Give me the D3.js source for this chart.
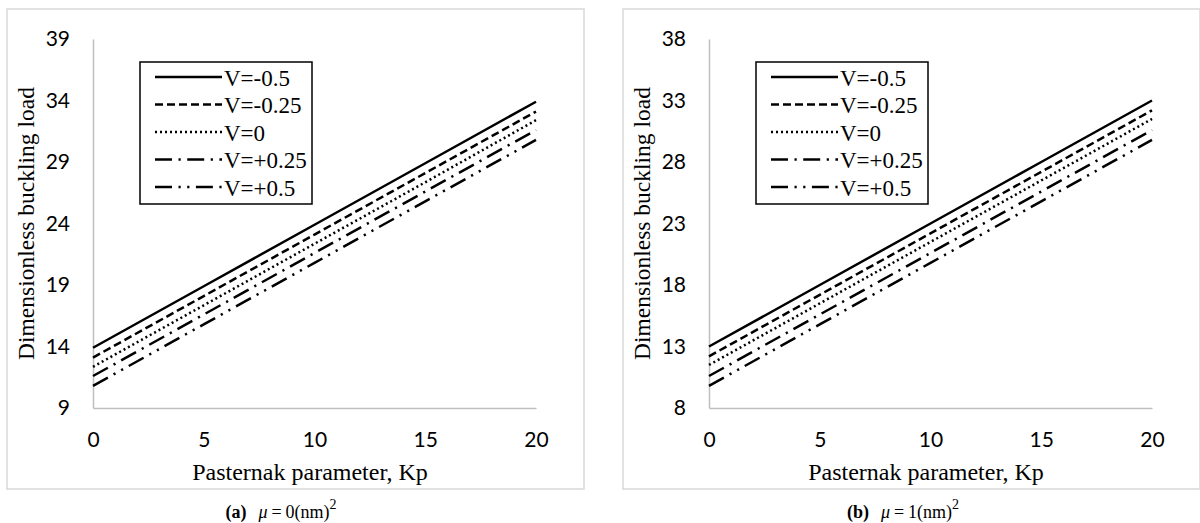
<!DOCTYPE html>
<html>
<head>
<meta charset="utf-8">
<script src="https://cdn.jsdelivr.net/npm/d3@7"></script>
<style>
  body { margin: 0; background: #fff; }
  svg { display: block; }
</style>
</head>
<body>
<div id="chart"></div>
<script>
// x values (Pasternak parameter)
var kp = [0, 5, 10, 15, 20];
var seriesNames = ["V=-0.5", "V=-0.25", "V=0", "V=+0.25", "V=+0.5"];

// panel (a) mu = 0
var a_vm050 = [13.9, 18.9, 23.9, 28.9, 33.9];
var a_vm025 = [13.1, 18.1, 23.1, 28.1, 33.1];
var a_v000  = [12.35, 17.35, 22.35, 27.35, 32.4];
var a_vp025 = [11.6, 16.6, 21.6, 26.6, 31.6];
var a_vp050 = [10.8, 15.8, 20.8, 25.8, 30.8];
var a_ticks = [9, 14, 19, 24, 29, 34, 39];

// panel (b) mu = 1
var b_vm050 = [13.0, 18.0, 23.0, 28.0, 33.0];
var b_vm025 = [12.2, 17.2, 22.2, 27.2, 32.2];
var b_v000  = [11.5, 16.5, 21.5, 26.5, 31.5];
var b_vp025 = [10.6, 15.6, 20.6, 25.6, 30.6];
var b_vp050 = [9.8, 14.8, 19.8, 24.8, 29.8];
var b_ticks = [8, 13, 18, 23, 28, 33, 38];

var xTicks = [0, 5, 10, 15, 20];

// line styles per series (solid, dash, square dot, long dash dot, long dash dot dot)
var dashes = ["none", "8,4", "2,3", "17,6.5,2.2,6.5", "17,6.5,2.2,6.5,2.2,6.5"];

var svg = d3.select("#chart").append("svg")
    .attr("width", 1200)
    .attr("height", 523);

var serif = "'Liberation Serif', 'Times New Roman', serif";
var sans = "Lato, 'Open Sans', sans-serif";

function drawPanel(left, series, yTicks, label, muVal, capX) {
    var g = svg.append("g").attr("transform", "translate(" + left + ",0)");

    // outer frame
    g.append("rect")
        .attr("x", 0).attr("y", 9)
        .attr("width", 577).attr("height", 480)
        .attr("fill", "#fff")
        .attr("stroke", "#d9d9d9")
        .attr("stroke-width", 1.5);

    var x0 = 86, x1 = 529, yTop = 39, yBot = 408;

    var x = d3.scaleLinear().domain([0, 20]).range([x0, x1]);
    var y = d3.scaleLinear().domain([yTicks[0], yTicks[yTicks.length - 1]]).range([yBot, yTop]);

    // axes
    var yAxis = d3.axisLeft(y).tickValues(yTicks).tickSize(0).tickPadding(23);
    var xAxis = d3.axisBottom(x).tickValues(xTicks).tickSize(0).tickPadding(24);

    var ya = g.append("g").attr("transform", "translate(" + x0 + ",0)").call(yAxis);
    var xa = g.append("g").attr("transform", "translate(0," + yBot + ")").call(xAxis);

    [ya, xa].forEach(function(a) {
        a.select(".domain").attr("stroke", "#bfbfbf").attr("stroke-width", 1.5);
        a.selectAll("text")
            .attr("fill", "#000")
            .style("font-family", sans)
            .style("font-size", "21px");
    });

    // series lines
    var line = d3.line()
        .x(function(d, i) { return x(kp[i]); })
        .y(function(d) { return y(d); });

    series.forEach(function(s, i) {
        g.append("path")
            .datum(s)
            .attr("d", line)
            .attr("fill", "none")
            .attr("stroke", "#000")
            .attr("stroke-width", 2.5)
            .attr("stroke-dasharray", dashes[i]);
    });

    // axis titles
    g.append("text")
        .attr("transform", "translate(19," + ((yTop + yBot) / 2) + ") rotate(-90)")
        .attr("text-anchor", "middle")
        .attr("dominant-baseline", "central")
        .style("font-family", serif)
        .style("font-size", "23.5px")
        .text("Dimensionless buckling load");

    g.append("text")
        .attr("x", 303).attr("y", 480)
        .attr("text-anchor", "middle")
        .style("font-family", serif)
        .style("font-size", "24px")
        .text("Pasternak parameter, Kp");

    // legend
    var lg = g.append("g").attr("transform", "translate(" + (x0 + 47) + ",62)");
    lg.append("rect")
        .attr("width", 172).attr("height", 142)
        .attr("fill", "#fff")
        .attr("stroke", "#000")
        .attr("stroke-width", 1.5);

    seriesNames.forEach(function(name, i) {
        var ry = 15 + i * 27.5;
        lg.append("line")
            .attr("x1", 15).attr("x2", 82)
            .attr("y1", ry).attr("y2", ry)
            .attr("stroke", "#000")
            .attr("stroke-width", 2.5)
            .attr("stroke-dasharray", dashes[i]);
        lg.append("text")
            .attr("x", 84).attr("y", ry + 1)
            .attr("dominant-baseline", "central")
            .style("font-family", serif)
            .style("font-size", "23px")
            .text(name);
    });

    // caption below frame
    var cap = g.append("text")
        .attr("x", capX).attr("y", 518)
        .attr("text-anchor", "middle")
        .style("font-family", serif)
        .style("font-size", "18px");
    cap.append("tspan").attr("font-weight", "bold").text(label);
    cap.append("tspan").attr("dx", 12).attr("font-style", "italic").text("\u03BC");
    cap.append("tspan").attr("dx", 4).text("=");
    cap.append("tspan").attr("dx", 4).text(muVal + "(nm)");
    cap.append("tspan").attr("dy", -9).attr("font-size", "14px").text("2");
}

drawPanel(7, [a_vm050, a_vm025, a_v000, a_vp025, a_vp050], a_ticks, "(a)", 0, 274);
drawPanel(623, [b_vm050, b_vm025, b_v000, b_vp025, b_vp050], b_ticks, "(b)", 1, 280);
</script>
</body>
</html>
